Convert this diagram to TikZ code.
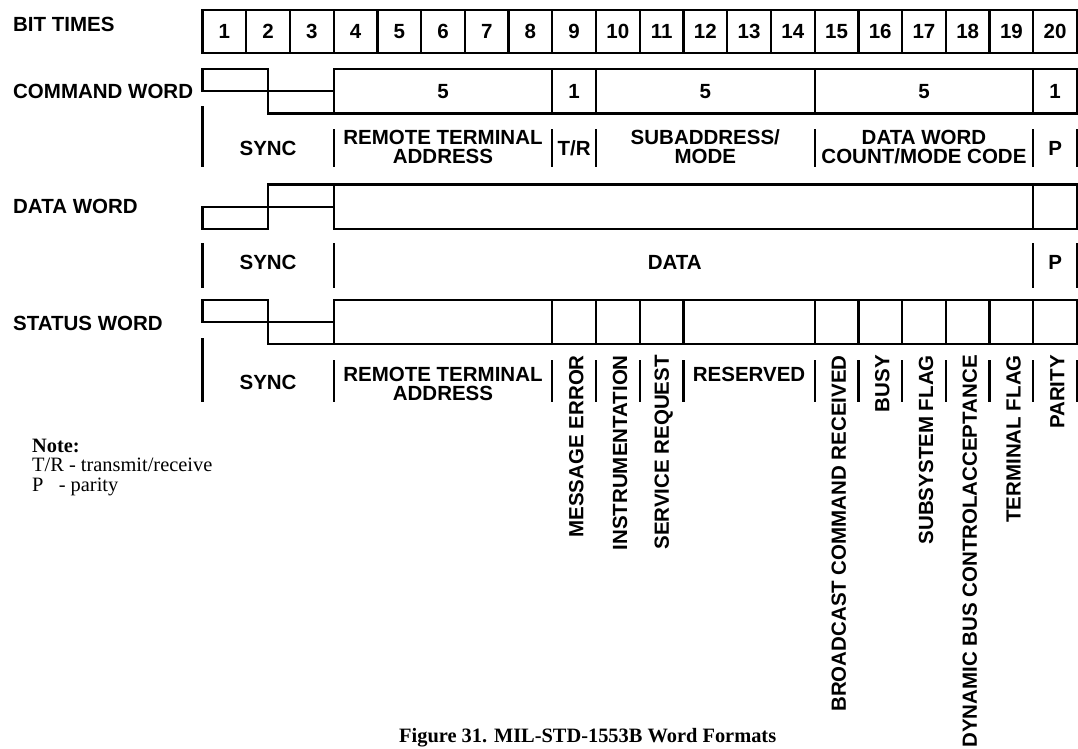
\documentclass[tikz,border=0pt]{standalone}
\usepackage{fontspec}
\setmainfont{Liberation Serif}
\newfontfamily\labelfont{Liberation Sans}
\usepackage{tikz}

\begin{document}
\begin{tikzpicture}[
  x=43.725pt, y=-1pt,
  wire/.style={line width=2.3pt},
  tickmark/.style={line width=2.3pt},
  lbl/.style={font={\labelfont\bfseries\fontsize{20.5}{19}\selectfont}, inner sep=0pt, align=center},
  rowlbl/.style={lbl, anchor=west},
  vlbl/.style={lbl, rotate=90, anchor=east},
  note/.style={font={\fontsize{20.4}{19.5}\selectfont}, inner sep=0pt, anchor=base west},
]
\useasboundingbox (-4.631,0) rectangle (20.023,748);

% row captions
\node[rowlbl] (bitlbl) at (-4.334,24) {BIT TIMES};
\node[rowlbl] (cmdlbl) at (-4.334,91.3) {COMMAND WORD};
\node[rowlbl] (datlbl) at (-4.334,206.8) {DATA WORD};
\node[rowlbl] (stslbl) at (-4.334,323) {STATUS WORD};

% bit times
\draw[wire] (0,10) rectangle (20,53);
\foreach \x in {1,...,19} \draw[wire] (\x,10) -- (\x,53);
\foreach \i in {1,...,20} \node[lbl] (bit\i) at (\i-0.5,31.5) {\i};

% command word
\draw[wire] (0,69) rectangle (1.5,91.3);
\draw[wire] (1.5,91.3) rectangle (3,113.6);
\draw[wire] (3,69) rectangle (20,113.6);
\foreach \x in {8,9,14,19} \draw[wire] (\x,69) -- (\x,113.6);
\node[lbl] (cmdrtn) at (5.5,91.3) {5};
\node[lbl] (cmdtrn) at (8.5,91.3) {1};
\node[lbl] (cmdsan) at (11.5,91.3) {5};
\node[lbl] (cmdwcn) at (16.5,91.3) {5};
\node[lbl] (cmdpn) at (19.5,91.3) {1};
\draw[tickmark] (0,106) -- (0,167);
\foreach \x in {3,8,9,14,19,20} \draw[tickmark] (\x,129) -- (\x,167);
\node[lbl] (cmdsync) at (1.5,148) {SYNC};
\node[lbl] (cmdaddr) at (5.5,147) {REMOTE TERMINAL\\ADDRESS};
\node[lbl] (cmdtr) at (8.5,148) {T/R};
\node[lbl] (cmdsub) at (11.5,147) {SUBADDRESS/\\MODE};
\node[lbl] (cmdcnt) at (16.5,147) {DATA WORD\\COUNT/MODE CODE};
\node[lbl] (cmdpar) at (19.5,148) {P};

% data word
\draw[wire] (0,206.8) rectangle (1.5,229.2);
\draw[wire] (1.5,184.4) rectangle (3,206.8);
\draw[wire] (3,184.4) rectangle (20,229.2);
\draw[wire] (19,184.4) -- (19,229.2);
\foreach \x in {0,3,19,20} \draw[tickmark] (\x,243) -- (\x,288);
\node[lbl] (datsync) at (1.5,262) {SYNC};
\node[lbl] (datdata) at (10.8,262) {DATA};
\node[lbl] (datpar) at (19.5,262) {P};

% status word
\draw[wire] (0,300) rectangle (1.5,322);
\draw[wire] (1.5,322) rectangle (3,344);
\draw[wire] (3,300) rectangle (20,344);
\foreach \x in {8,9,10,11,14,15,16,17,18,19} \draw[wire] (\x,300) -- (\x,344);
\draw[tickmark] (0,338) -- (0,402);
\foreach \x in {3,8,9,10,11,14,15,16,17,18,19,20} \draw[tickmark] (\x,360) -- (\x,402);
\node[lbl] (stssync) at (1.5,382) {SYNC};
\node[lbl] (stsaddr) at (5.5,384) {REMOTE TERMINAL\\ADDRESS};
\node[lbl] (stsres) at (12.5,374) {RESERVED};
\node[vlbl] (stsme) at (8.55,355) {MESSAGE ERROR};
\node[vlbl] (stsinst) at (9.55,355) {INSTRUMENTATION};
\node[vlbl] (stssr) at (10.55,355) {SERVICE REQUEST};
\node[vlbl] (stsbcr) at (14.55,355) {BROADCAST COMMAND RECEIVED};
\node[vlbl] (stsbusy) at (15.55,355) {BUSY};
\node[vlbl] (stsssf) at (16.55,355) {SUBSYSTEM FLAG};
\node[vlbl] (stsdbc) at (17.55,355) {DYNAMIC BUS CONTROLACCEPTANCE};
\node[vlbl] (ststf) at (18.55,355) {TERMINAL FLAG};
\node[vlbl] (stspar) at (19.55,355) {PARITY};

% note and caption
\node[note] (notehead) at (-3.899,452) {\textbf{Note:}};
\node[note] (notetr) at (-3.899,471.5) {T/R - transmit/receive};
\node[note] (notep) at (-3.899,491) {P\ \ \ - parity};
\node[note] (caption) at (4.494,742) {\textbf{Figure 31. MIL-STD-1553B Word Formats}};
\end{tikzpicture}
\end{document}
